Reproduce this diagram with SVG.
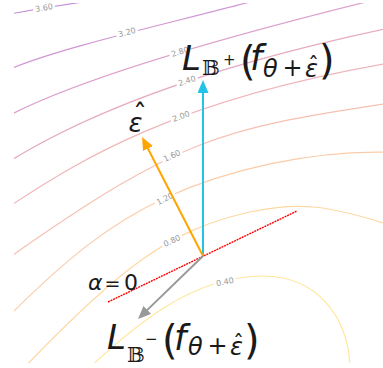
<svg xmlns="http://www.w3.org/2000/svg" width="383" height="368" viewBox="0 0 383 368">
<style>
.c{fill:none;stroke-width:1.2}
.cl{font-family:"DejaVu Sans",sans-serif;font-size:8px;fill:#999;text-anchor:middle;dominant-baseline:central}
.m{font-family:"DejaVu Sans","Noto Sans",sans-serif;fill:#1a1a1a}
.i{font-style:italic}
.bb{font-family:"DejaVu Serif","DejaVu Sans",serif;font-weight:normal}
.ar{fill:none;stroke-width:2}
</style>
<defs>
<clipPath id="ax"><rect x="14" y="3" width="369" height="360"/></clipPath>
<mask id="gaps" maskUnits="userSpaceOnUse" x="0" y="0" width="383" height="368">
<rect width="383" height="368" fill="#fff"/>
<g fill="#000">
<rect x="-11" y="-5" width="22" height="10" transform="translate(44,8) rotate(-10)"/>
<rect x="-11" y="-5" width="22" height="10" transform="translate(127,32.5) rotate(-15)"/>
<rect x="-11" y="-5" width="22" height="10" transform="translate(180,52) rotate(-17)"/>
<rect x="-11" y="-5" width="22" height="10" transform="translate(187,81) rotate(-18)"/>
<rect x="-11" y="-5" width="22" height="10" transform="translate(181,116.5) rotate(-20)"/>
<rect x="-11" y="-5" width="22" height="10" transform="translate(172,156) rotate(-25)"/>
<rect x="-11" y="-5" width="22" height="10" transform="translate(165,199) rotate(-27)"/>
<rect x="-11" y="-5" width="22" height="10" transform="translate(172,241) rotate(-25)"/>
<rect x="-11" y="-5" width="22" height="10" transform="translate(225,282) rotate(-12)"/>
</g>
</mask>
<marker id="hb" markerUnits="userSpaceOnUse" markerWidth="13" markerHeight="11" viewBox="0 0 13 11" refX="1" refY="5.5" orient="auto"><path d="M0,0 L13,5.5 L0,11 z" fill="#22c3e6"/></marker>
<marker id="ho" markerUnits="userSpaceOnUse" markerWidth="13" markerHeight="11" viewBox="0 0 13 11" refX="1" refY="5.5" orient="auto"><path d="M0,0 L13,5.5 L0,11 z" fill="#ffa500"/></marker>
<marker id="hg" markerUnits="userSpaceOnUse" markerWidth="13" markerHeight="11" viewBox="0 0 13 11" refX="1" refY="5.5" orient="auto"><path d="M0,0 L13,5.5 L0,11 z" fill="#999"/></marker>
</defs>

<g id="contours" clip-path="url(#ax)">
<g mask="url(#gaps)">
<path id="c360" class="c" stroke="#c48cd9" d="M10,14 Q45,7.5 80,2.5"/>
<path id="c320" class="c" stroke="#d095d4" d="M10,69 C60,48 150,28 250,2"/>
<path id="c280" class="c" stroke="#dc9fcc" d="M10,115 C70,84 180,48 370,1"/>
<path id="c240" class="c" stroke="#e6aac3" d="M10,161 C80,118 190,70 390,28"/>
<path id="c200" class="c" stroke="#efb5ba" d="M10,206 C80,160 175,100 390,63"/>
<path id="c160" class="c" stroke="#f5c0b2" d="M10,257 C180,138 220,128.5 390,103"/>
<path id="c120" class="c" stroke="#facca9" d="M10,315 C65,260 110,223.3 165,198 C225,170.4 310,149.9 390,152.3"/>
<path id="c080" class="c" stroke="#fdd8a2" d="M20,372 C120,267 170,229.6 250,212 C300,201 330,206 390,225"/>
<path id="c040" class="c" stroke="#fee79c" d="M85,372 C135,324.5 193,276 263,276 C315,276 350,315 350,372"/>
</g>
</g>

<g id="contour-labels">
<text class="cl" transform="translate(44,8) rotate(-10)">3.60</text>
<text class="cl" transform="translate(127,32.5) rotate(-15)">3.20</text>
<text class="cl" transform="translate(180,52) rotate(-17)">2.80</text>
<text class="cl" transform="translate(187,81) rotate(-18)">2.40</text>
<text class="cl" transform="translate(181,116.5) rotate(-20)">2.00</text>
<text class="cl" transform="translate(172,156) rotate(-25)">1.60</text>
<text class="cl" transform="translate(165,199) rotate(-27)">1.20</text>
<text class="cl" transform="translate(172,241) rotate(-25)">0.80</text>
<text class="cl" transform="translate(225,282) rotate(-12)">0.40</text>
</g>

<g id="connectors">
<line x1="108" y1="302" x2="297" y2="211" stroke="#ff0000" stroke-width="1.4" stroke-dasharray="2 0.8"/>
<line class="ar" x1="203" y1="256" x2="203" y2="92" stroke="#22c3e6" marker-end="url(#hb)"/>
<line class="ar" x1="203" y1="256" x2="147.5" y2="147.7" stroke="#ffa500" marker-end="url(#ho)"/>
<line class="ar" x1="203" y1="256" x2="146.6" y2="310.6" stroke="#999" marker-end="url(#hg)"/>
</g>

<g id="label-plus">
<text class="m"><tspan class="i" x="182" y="70" font-size="34">L</tspan><tspan class="bb" x="202" y="75" font-size="21">𝔹</tspan><tspan x="223" y="65" font-size="15">+</tspan><tspan x="240" y="75" font-size="40">(</tspan><tspan class="i" x="250" y="70" font-size="35">f</tspan><tspan class="i" x="263" y="77" font-size="24">θ</tspan><tspan x="282.5" y="76" font-size="24">+</tspan><tspan class="i" x="305" y="77" font-size="24">ε</tspan><tspan x="308" y="72" font-size="22">ˆ</tspan><tspan x="319" y="74" font-size="40">)</tspan></text>
</g>

<g id="label-minus">
<text class="m"><tspan class="i" x="107" y="349" font-size="34">L</tspan><tspan class="bb" x="127" y="362" font-size="21">𝔹</tspan><tspan x="145" y="344" font-size="15">−</tspan><tspan x="162" y="354" font-size="40">(</tspan><tspan class="i" x="174" y="350" font-size="35">f</tspan><tspan class="i" x="188" y="355" font-size="24">θ</tspan><tspan x="207.5" y="354" font-size="24">+</tspan><tspan class="i" x="230" y="355" font-size="24">ε</tspan><tspan x="233" y="350" font-size="22">ˆ</tspan><tspan x="244" y="354" font-size="40">)</tspan></text>
</g>

<g id="label-eps">
<text class="m"><tspan class="i" x="128.5" y="132" font-size="26">ε</tspan><tspan x="133" y="125" font-size="28">ˆ</tspan></text>
</g>

<g id="label-alpha">
<text class="m" y="290" font-size="22"><tspan class="i" x="88">α</tspan><tspan x="104.5" font-size="19">=</tspan><tspan x="124">0</tspan></text>
</g>
</svg>
